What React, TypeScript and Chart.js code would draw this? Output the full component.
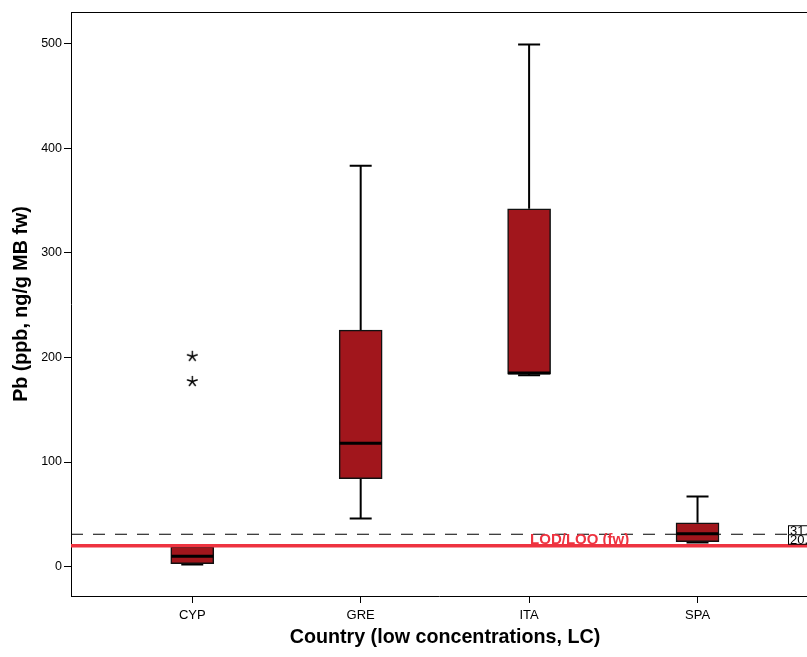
import React, { useEffect, useRef } from "react";
import { Chart, registerables } from "chart.js";
Chart.register(...registerables);

// ---- data ----
const categories = ["CYP", "GRE", "ITA", "SPA"];
const categoryPos = [1, 2, 3, 4];
const whiskerLow = [2, 46, 183, 23];
const q1 = [3, 84, 184, 24];
const median = [10, 118, 185, 31.5];
const q3 = [19, 226, 342, 42];
const whiskerHigh = [19, 383, 499, 67];
const outlierPos = [1, 1];
const outlierVal = [177, 201];
const refDashedValue = 31;
const refRedValue = 20;
const refBoxLabels = ["31.", "20."];
const refLineLabel = "LOD/LOQ (fw)";
const yTickValues = [0, 100, 200, 300, 400, 500];
const xTitle = "Country (low concentrations, LC)";
const yTitle = "Pb (ppb, ng/g MB fw)";

const BOX_FILL = "#a1161c";
const RED = "#ee3340";
const FONT = "'Liberation Sans', Arial, sans-serif";

function makeStar(): HTMLCanvasElement {
  const c = document.createElement("canvas");
  c.width = 13;
  c.height = 13;
  const g = c.getContext("2d")!;
  g.strokeStyle = "#000";
  g.lineWidth = 1.4;
  g.lineCap = "butt";
  const cx = 6.5, cy = 6.5, r = 5.6;
  for (let k = 0; k < 5; k++) {
    const a = -Math.PI / 2 + (k * 2 * Math.PI) / 5;
    g.beginPath();
    g.moveTo(cx, cy);
    g.lineTo(cx + r * Math.cos(a), cy + r * Math.sin(a));
    g.stroke();
  }
  return c;
}

const boxPlugin = {
  id: "boxExtras",
  beforeDatasetsDraw(chart: any) {
    const { ctx, chartArea, scales } = chart;
    const x = scales.x, y = scales.y;
    ctx.save();
    // top frame line
    ctx.strokeStyle = "#000";
    ctx.lineWidth = 1;
    ctx.beginPath();
    ctx.moveTo(chartArea.left, chartArea.top + 0.5);
    ctx.lineTo(chartArea.right, chartArea.top + 0.5);
    ctx.stroke();
    // dashed reference line
    const yd = y.getPixelForValue(refDashedValue);
    ctx.setLineDash([12, 10]);
    ctx.lineWidth = 1.2;
    ctx.beginPath();
    ctx.moveTo(chartArea.left, yd);
    ctx.lineTo(chartArea.right, yd);
    ctx.stroke();
    ctx.setLineDash([]);
    // whiskers
    ctx.lineWidth = 2;
    ctx.strokeStyle = "#000";
    for (let i = 0; i < categories.length; i++) {
      const px = x.getPixelForValue(categoryPos[i]);
      const yl = y.getPixelForValue(whiskerLow[i]);
      const yh = y.getPixelForValue(whiskerHigh[i]);
      const y1 = y.getPixelForValue(q1[i]);
      const y3 = y.getPixelForValue(q3[i]);
      ctx.beginPath();
      ctx.moveTo(px, y3);
      ctx.lineTo(px, yh);
      ctx.moveTo(px, y1);
      ctx.lineTo(px, yl);
      ctx.moveTo(px - 11, yh);
      ctx.lineTo(px + 11, yh);
      ctx.moveTo(px - 11, yl);
      ctx.lineTo(px + 11, yl);
      ctx.stroke();
    }
    ctx.restore();
  },
  afterDatasetsDraw(chart: any) {
    const { ctx, chartArea, scales } = chart;
    const x = scales.x, y = scales.y;
    ctx.save();
    // medians
    ctx.strokeStyle = "#000";
    ctx.lineWidth = 3;
    for (let i = 0; i < categories.length; i++) {
      const px = x.getPixelForValue(categoryPos[i]);
      const ym = y.getPixelForValue(median[i]);
      ctx.beginPath();
      ctx.moveTo(px - 21, ym);
      ctx.lineTo(px + 21, ym);
      ctx.stroke();
    }
    // red reference line
    const yr = y.getPixelForValue(refRedValue);
    ctx.strokeStyle = RED;
    ctx.lineWidth = 3.5;
    ctx.beginPath();
    ctx.moveTo(chartArea.left, yr);
    ctx.lineTo(chartArea.right, yr);
    ctx.stroke();
    // red line label
    ctx.fillStyle = RED;
    ctx.font = `bold 15px ${FONT}`;
    ctx.textAlign = "center";
    ctx.textBaseline = "alphabetic";
    ctx.fillText(refLineLabel, x.getPixelForValue(3.3), yr - 2);
    // boxed value labels at right
    const yd = y.getPixelForValue(refDashedValue);
    const bx = chartArea.right - 19;
    ctx.font = `13px ${FONT}`;
    ctx.textAlign = "left";
    ctx.textBaseline = "alphabetic";
    const tops = [yd - 9, yd];
    const bottoms = [yd, yr - 2];
    for (let k = 0; k < refBoxLabels.length; k++) {
      const top = tops[k];
      const bottom = bottoms[k];
      ctx.fillStyle = "#fff";
      ctx.fillRect(bx, top, 30, bottom - top);
      ctx.strokeStyle = "#000";
      ctx.lineWidth = 1;
      ctx.strokeRect(bx + 0.5, top + 0.5, 30, bottom - top);
      ctx.fillStyle = "#000";
      ctx.fillText(refBoxLabels[k], bx + 2, bottom + 0.5);
    }
    ctx.restore();
  },
  afterDraw(chart: any) {
    const { ctx, chartArea } = chart;
    ctx.save();
    ctx.fillStyle = "#000";
    ctx.font = `bold 19.7px ${FONT}`;
    ctx.textAlign = "center";
    ctx.textBaseline = "middle";
    // x axis title
    ctx.fillText(xTitle, (chartArea.left + chartArea.right) / 2 + 6, chart.height - 19);
    // y axis title
    ctx.translate(22, (chartArea.top + chartArea.bottom) / 2);
    ctx.rotate(-Math.PI / 2);
    ctx.fillText(yTitle, 0, 0);
    ctx.restore();
  },
};

export default function App() {
  const ref = useRef<HTMLCanvasElement>(null);
  useEffect(() => {
    const star = makeStar();
    const chart = new Chart(ref.current!, {
      type: "bar",
      data: {
        datasets: [
          {
            type: "bar",
            data: categoryPos.map((p, i) => ({ x: p, y: [q1[i], q3[i]] })) as any,
            backgroundColor: BOX_FILL,
            borderColor: "#111",
            borderWidth: 1.5,
            borderSkipped: false,
            barThickness: 43,
          } as any,
          {
            type: "scatter",
            data: outlierPos.map((p, i) => ({ x: p, y: outlierVal[i] })),
            pointStyle: star as any,
            pointRadius: 6,
          } as any,
        ],
      },
      options: {
        animation: false,
        responsive: false,
        maintainAspectRatio: false,
        layout: { autoPadding: false, padding: { top: 12, left: 0, right: 0, bottom: 0 } },
        plugins: { legend: { display: false }, tooltip: { enabled: false } },
        scales: {
          x: {
            type: "linear",
            min: 0.28,
            max: 4.65,
            offset: false,
            afterBuildTicks: (s: any) => {
              s.ticks = categoryPos.map((v) => ({ value: v }));
            },
            afterFit: (s: any) => {
              s.height = 61;
              s.paddingLeft = 0;
              s.paddingRight = 0;
            },
            grid: { display: true, offset: false, drawOnChartArea: false, drawTicks: true, tickLength: 7, color: "#000" },
            border: { display: true, color: "#000", width: 1 },
            ticks: {
              color: "#000",
              font: { family: FONT, size: 13 },
              padding: 5,
              maxRotation: 0,
              autoSkip: false,
              callback: (v: any) => categories[categoryPos.indexOf(Number(v))] ?? "",
            },
            title: { display: false },
          },
          y: {
            type: "linear",
            min: -28,
            max: 530,
            afterBuildTicks: (s: any) => {
              s.ticks = yTickValues.map((v) => ({ value: v }));
            },
            afterFit: (s: any) => {
              s.width = 71;
              s.paddingTop = 0;
              s.paddingBottom = 0;
            },
            grid: { display: true, drawOnChartArea: false, drawTicks: true, tickLength: 7, color: "#000" },
            border: { display: true, color: "#000", width: 1 },
            ticks: {
              color: "#000",
              font: { family: FONT, size: 12.5 },
              padding: 2,
            },
            title: { display: false },
          },
        },
      } as any,
      plugins: [boxPlugin],
    });
    return () => chart.destroy();
  }, []);
  return (
    <div style={{ position: "fixed", left: 0, top: 0, width: 807, height: 657, background: "#fff" }}>
      <canvas ref={ref} width={807} height={657} style={{ width: 807, height: 657, display: "block" }} />
    </div>
  );
}
